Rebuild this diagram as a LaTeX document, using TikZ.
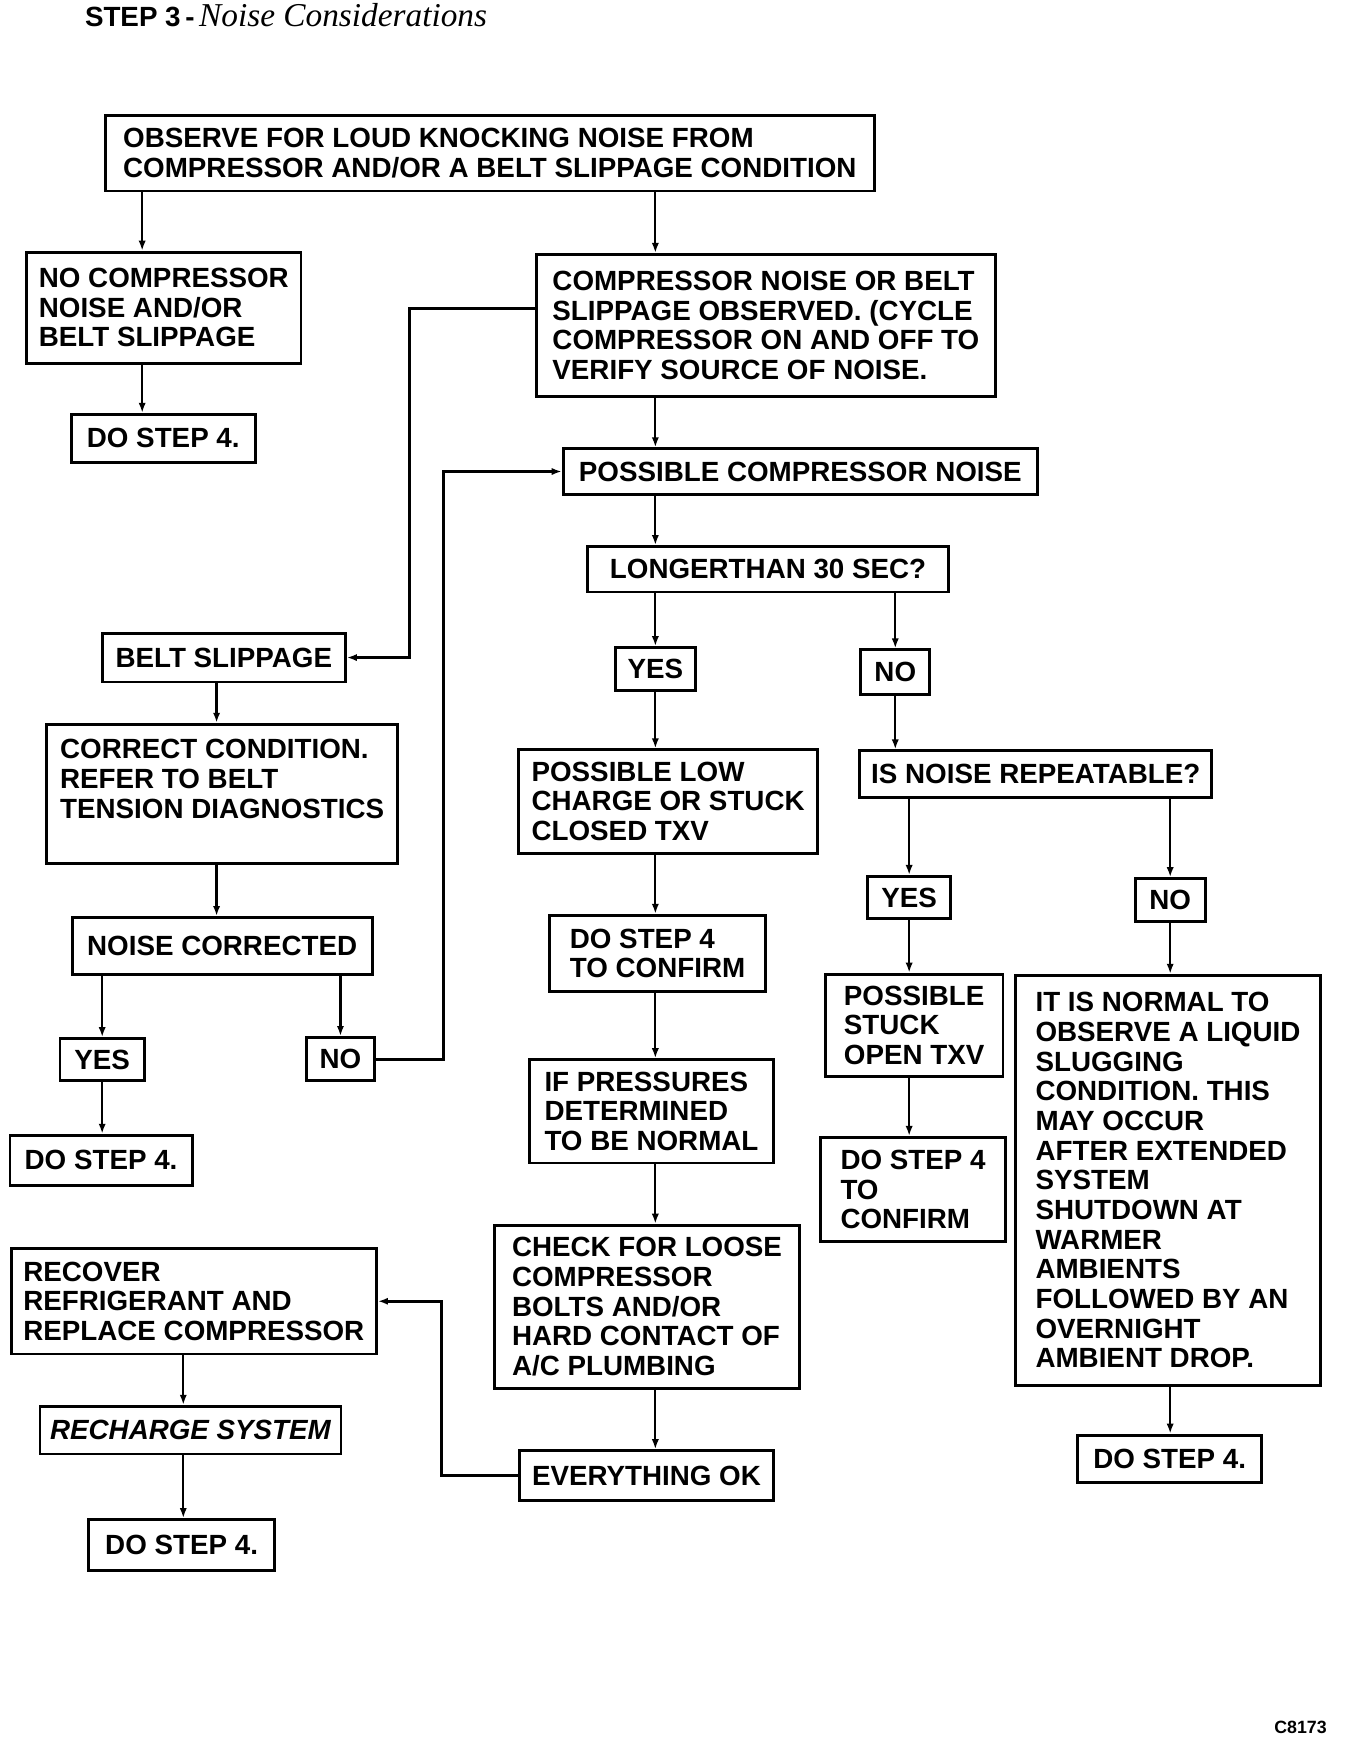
\documentclass[tikz,border=0pt]{standalone}
\usepackage{fontspec}
\setmainfont{Liberation Sans}
\newfontfamily\serifit{Liberation Serif}
\usetikzlibrary{arrows.meta, positioning, calc}

\begin{document}
\begin{tikzpicture}[x=1pt, y=-1pt,
  box/.style={draw, line width=2.6pt, align=left, inner sep=0pt,
    font=\fontsize{25}{26.7}\selectfont\bfseries},
  flow/.style={line width=2pt, -{Latex[length=9pt,width=6.5pt]}},
  loop/.style={flow, line width=2.8pt}]
\useasboundingbox (0,0) rectangle (1210,1566.5);
% Title
\node[anchor=base west, font=\fontsize{25}{28}\selectfont\bfseries] (title) at (73,24)
  {STEP 3\,-\,{\serifit\mdseries\itshape\fontsize{30}{32}\selectfont Noise Considerations}};
% Columns
\coordinate (leftcol) at (128,0);
\coordinate (side) at (195,0);
\coordinate (drop) at (165,0);
\coordinate (mid) at (590,0);
% Left branch
\node[box, minimum width=692, minimum height=68] (observe) at (441,138)
  {OBSERVE FOR LOUD KNOCKING NOISE FROM\\COMPRESSOR AND/OR A BELT SLIPPAGE CONDITION};
\node[box, minimum width=247, minimum height=100] (noneed) at (147.5,277)
  {NO COMPRESSOR\\NOISE AND/OR\\BELT SLIPPAGE};
\node[box, minimum width=166, minimum height=43] (skipa) at (147,394.5) {DO STEP 4.};
\node[box, minimum width=219, minimum height=44] (belt) at (201.5,592) {BELT SLIPPAGE};
\node[box, minimum width=316, minimum height=125] (correct) at (200,714.5)
  {CORRECT CONDITION.\\REFER TO BELT\\TENSION DIAGNOSTICS\\ \mbox{}};
\node[box, minimum width=270, minimum height=51] (corrected) at (200,851.5) {NOISE CORRECTED};
\node[box, minimum width=76, minimum height=38] (yesc) at (92,954) {YES};
\node[box, minimum width=61, minimum height=39] (noc) at (306.5,953.5) {NO};
\node[box, minimum width=164, minimum height=45] (skipb) at (91,1044.5) {DO STEP 4.};
\node[box, minimum width=329, minimum height=95] (recover) at (174.5,1171.5)
  {RECOVER\\REFRIGERANT AND\\REPLACE COMPRESSOR};
\node[box, minimum width=271, minimum height=43, font=\fontsize{25}{26.7}\selectfont\bfseries\itshape]
  (recharge) at (171.5,1287.5) {RECHARGE SYSTEM};
\node[box, minimum width=167, minimum height=46] (skipd) at (163.5,1391) {DO STEP 4.};
% Middle branch
\node[box, minimum width=413, minimum height=128] (observed) at (689.5,293)
  {COMPRESSOR NOISE OR BELT\\SLIPPAGE OBSERVED. (CYCLE\\COMPRESSOR ON AND OFF TO\\VERIFY SOURCE OF NOISE.};
\node[box, minimum width=427, minimum height=41] (compnoise) at (720.5,424.5) {POSSIBLE COMPRESSOR NOISE};
\node[box, minimum width=325, minimum height=41] (longer) at (691.5,512.5) {LONGERTHAN 30 SEC?};
\node[box, minimum width=72, minimum height=39] (yesa) at (590,602.5) {YES};
\node[box, minimum width=269, minimum height=93] (lowcharge) at (601.5,721.5)
  {POSSIBLE LOW\\CHARGE OR STUCK\\CLOSED TXV};
\node[box, minimum width=194, minimum height=69] (confirma) at (592,858.5) {DO STEP 4\\TO CONFIRM};
\node[box, minimum width=219, minimum height=93] (pressures) at (586.5,1000.5)
  {IF PRESSURES\\DETERMINED\\TO BE NORMAL};
\node[box, minimum width=275, minimum height=147] (loose) at (582.5,1176.5)
  {CHECK FOR LOOSE\\COMPRESSOR\\BOLTS AND/OR\\HARD CONTACT OF\\A/C PLUMBING};
\node[box, minimum width=228, minimum height=45] (allok) at (582,1328.5) {EVERYTHING OK};
% Right branch
\node[box, minimum width=62, minimum height=40] (noa) at (806,605) {NO};
\node[box, minimum width=317, minimum height=42] (repeat) at (932.5,697) {IS NOISE REPEATABLE?};
\node[box, minimum width=75, minimum height=38] (yesb) at (818.5,808) {YES};
\node[box, minimum width=63, minimum height=39] (nob) at (1053.5,810.5) {NO};
\node[box, minimum width=160, minimum height=92] (opentxv) at (823,923)
  {POSSIBLE\\STUCK\\OPEN TXV};
\node[box, minimum width=166, minimum height=94] (confirmb) at (822,1071)
  {DO STEP 4\\TO\\CONFIRM};
\node[box, minimum width=275, minimum height=369] (normal) at (1051.5,1062.5)
  {IT IS NORMAL TO\\OBSERVE A LIQUID\\SLUGGING\\CONDITION. THIS\\MAY OCCUR\\AFTER EXTENDED\\SYSTEM\\SHUTDOWN AT\\WARMER\\AMBIENTS\\FOLLOWED BY AN\\OVERNIGHT\\AMBIENT DROP.};
\node[box, minimum width=166, minimum height=43] (skipc) at (1053,1313.5) {DO STEP 4.};
\node[anchor=base east, font=\fontsize{16}{18}\selectfont\bfseries] (code) at (1198,1561) {C8173};
% Links, left
\draw[flow] (observe.south -| leftcol) -- (noneed.north -| leftcol);
\draw[flow] (noneed.south -| leftcol) -- (skipa.north -| leftcol);
\draw[loop] ([yshift=15pt]observed.west) -| ($(belt.east)+(56,0)$) -- (belt.east);
\draw[flow] (belt.south -| side) -- (correct.north -| side);
\draw[flow] (correct.south -| side) -- (corrected.north -| side);
\draw[flow] (corrected.south -| yesc) -- (yesc.north);
\draw[flow] (corrected.south -| noc) -- (noc.north);
\draw[flow] (yesc.south) -- (skipb.north -| yesc);
\draw[loop] (noc.east) -- ++(61,0) |- (compnoise.west);
\draw[flow] (recover.south -| drop) -- (recharge.north -| drop);
\draw[flow] (recharge.south -| drop) -- (skipd.north -| drop);
% Links, middle
\draw[flow] (observe.south -| mid) -- (observed.north -| mid);
\draw[flow] (observed.south -| mid) -- (compnoise.north -| mid);
\draw[flow] (compnoise.south -| mid) -- (longer.north -| mid);
\draw[flow] (longer.south -| yesa) -- (yesa.north);
\draw[flow] (yesa.south) -- (lowcharge.north -| yesa);
\draw[flow] (lowcharge.south -| mid) -- (confirma.north -| mid);
\draw[flow] (confirma.south -| mid) -- (pressures.north -| mid);
\draw[flow] (pressures.south -| mid) -- (loose.north -| mid);
\draw[flow] (loose.south -| mid) -- (allok.north -| mid);
\draw[loop] (allok.west) -- ++(-69,0) |- (recover.east);
% Links, right
\draw[flow] (longer.south -| noa) -- (noa.north);
\draw[flow] (noa.south) -- (repeat.north -| noa);
\draw[flow] (repeat.south -| yesb) -- (yesb.north);
\draw[flow] (repeat.south -| nob) -- (nob.north);
\draw[flow] (yesb.south) -- (opentxv.north -| yesb);
\draw[flow] (nob.south) -- (normal.north -| nob);
\draw[flow] (opentxv.south -| yesb) -- (confirmb.north -| yesb);
\draw[flow] (normal.south -| nob) -- (skipc.north -| nob);
\end{tikzpicture}
\end{document}
